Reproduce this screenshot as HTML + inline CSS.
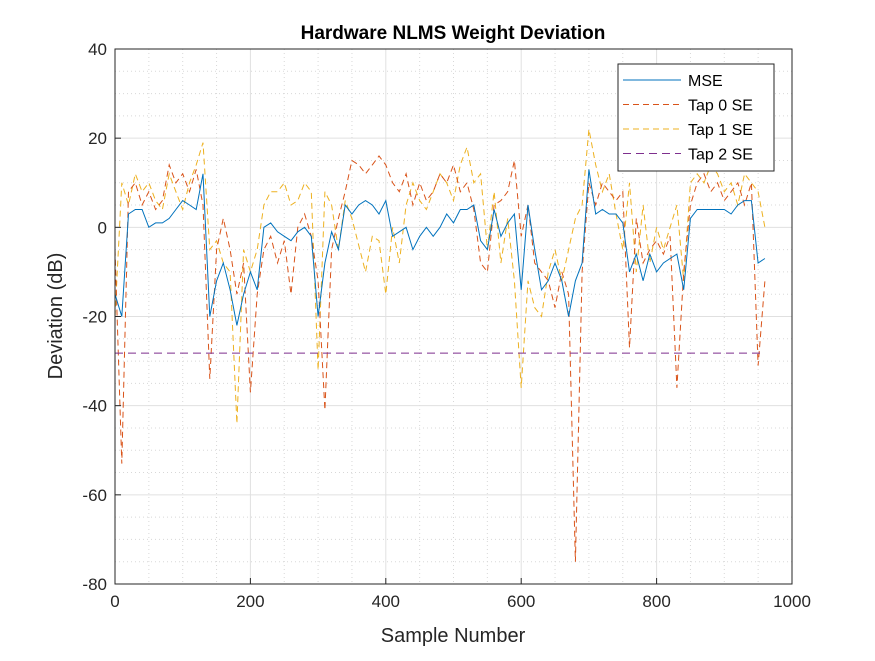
<!DOCTYPE html>
<html><head><meta charset="utf-8"><style>
body{margin:0;background:#fff;font-family:"Liberation Sans",Arial,sans-serif}
</style></head><body>
<svg id="chart" width="875" height="656" xmlns="http://www.w3.org/2000/svg">
<rect width="875" height="656" fill="#fff"/>
<g id="grid"></g><g id="series"></g><g id="axes"></g>
</svg>
<script>
const xTicks=[0,200,400,600,800,1000];
const yTicks=[40,20,0,-20,-40,-60,-80];
const sampleX=[];for(let i=0;i<=96;i++)sampleX.push(i*10);
const mse=[-15,-20,3,4,4,0,1,1,2,4,6,5,4,12,-20,-12,-8,-14,-22,-15,-10,-14,0,1,-1,-2,-3,-1,0,-2,-20,-8,-1,-5,5,3,5,6,5,3,6,-2,-1,0,-5,-2,0,-2,0,3,1,4,4,5,-3,-5,4,-2,1,3,-14,5,-5,-14,-12,-8,-12,-20,-12,-8,13,3,4,3,3,1,-10,-6,-12,-6,-10,-8,-7,-6,-14,2,4,4,4,4,4,3,5,6,6,-8,-7];
const tap0=[-5,-53,8,10,5,8,4,6,14,10,12,8,13,5,-34,-5,2,-5,-15,-8,-37,-15,-5,-2,-8,-3,-15,0,3,-2,-12,-41,-5,2,8,15,14,12,14,16,14,10,8,12,5,10,6,8,12,10,14,8,10,4,-8,-10,5,6,8,15,-2,5,-8,-10,-12,-18,-10,-15,-75,-10,10,5,10,8,6,8,-27,2,-8,-5,-3,-6,-2,-36,-10,5,10,12,8,10,6,8,10,5,10,-31,-12];
const tap1=[-20,10,5,12,8,10,6,4,12,8,4,10,14,19,-5,-3,-8,-10,-44,-5,-10,-5,5,8,8,10,5,6,10,8,-32,8,5,-5,6,2,-4,-10,-2,-3,-15,0,-8,5,10,6,4,8,12,10,6,14,18,10,12,-5,8,-8,2,-12,-36,-12,-18,-20,-10,-5,-12,-5,2,5,22,14,8,12,3,-5,10,-10,5,-8,0,-5,0,5,-12,10,12,10,14,12,8,10,5,12,10,8,0];
const tap2=sampleX.map(()=>-28.2);
const L=115,R=792,T=49,B=584;
const sx=v=>L+(v-0)/1000*(R-L), sy=v=>T+(40-v)/120*(B-T);
const NS="http://www.w3.org/2000/svg";
function mk(p,t,a){const e=document.createElementNS(NS,t);for(const k in a)e.setAttribute(k,a[k]);p.appendChild(e);return e;}
const grid=document.getElementById('grid'),ser=document.getElementById('series'),ax=document.getElementById('axes');
mk(grid,'rect',{x:L,y:T,width:R-L,height:B-T,fill:'#fff'});
for(let v=0;v<=1000;v+=50){const g=mk(grid,'line',{x1:sx(v),x2:sx(v),y1:T,y2:B,stroke:v%200?'#d8d8d8':'#e0e0e0','stroke-width':1,'stroke-dasharray':v%200?'1 3':'none'});}
for(let v=-80;v<=40;v+=5){const g=mk(grid,'line',{x1:L,x2:R,y1:sy(v),y2:sy(v),stroke:v%20?'#d8d8d8':'#e0e0e0','stroke-width':1,'stroke-dasharray':v%20?'1 3':'none'});}
function line(vals,color,dash,name){const d=vals.map((v,i)=>(i?'L':'M')+sx(sampleX[i]).toFixed(1)+' '+sy(v).toFixed(1)).join('');const p=mk(ser,'path',{d:d,fill:'none',stroke:color,'stroke-width':1,'stroke-dasharray':dash});

}
line(tap1,'#EDB120','6 4','tap1-se-line');
line(tap0,'#D95319','6 4','tap0-se-line');
line(tap2,'#7E2F8E','8 5','tap2-se-line');
line(mse,'#0072BD','none','mse-line');
mk(ax,'rect',{x:L,y:T,width:R-L,height:B-T,fill:'none',stroke:'#262626','stroke-width':1});
xTicks.forEach(v=>{mk(ax,'line',{x1:sx(v),x2:sx(v),y1:B,y2:B-6,stroke:'#262626'});const t=mk(ax,'text',{x:sx(v),y:B+23,'text-anchor':'middle','font-size':17,fill:'#262626'});t.textContent=v;});
yTicks.forEach(v=>{mk(ax,'line',{x1:L,x2:L+6,y1:sy(v),y2:sy(v),stroke:'#262626'});const t=mk(ax,'text',{x:L-8,y:sy(v)+6,'text-anchor':'end','font-size':17,fill:'#262626'});t.textContent=v;});
let t=mk(ax,'text',{x:453,y:39,'text-anchor':'middle','font-size':19,'font-weight':'bold',fill:'#000'});t.textContent='Hardware NLMS Weight Deviation';


t=mk(ax,'text',{x:453,y:642,'text-anchor':'middle','font-size':20,fill:'#262626'});t.textContent='Sample Number';


t=mk(ax,'text',{x:0,y:0,'text-anchor':'middle','font-size':20,fill:'#262626',transform:'translate(62 316) rotate(-90)'});t.textContent='Deviation (dB)';


const lg=mk(ax,'g',{});


mk(lg,'rect',{x:618,y:64,width:156,height:107,fill:'#fff',stroke:'#262626'});
const le=[['MSE','#0072BD','none'],['Tap 0 SE','#D95319','6 4'],['Tap 1 SE','#EDB120','6 4'],['Tap 2 SE','#7E2F8E','8 5']];
le.forEach((e,i)=>{const y=80+i*24.5;const g=mk(lg,'g',{});


mk(g,'line',{x1:623,x2:681,y1:y,y2:y,stroke:e[1],'stroke-dasharray':e[2]});const tt=mk(g,'text',{x:688,y:y+6,'font-size':16,fill:'#000'});tt.textContent=e[0];});
</script>
</body></html>
